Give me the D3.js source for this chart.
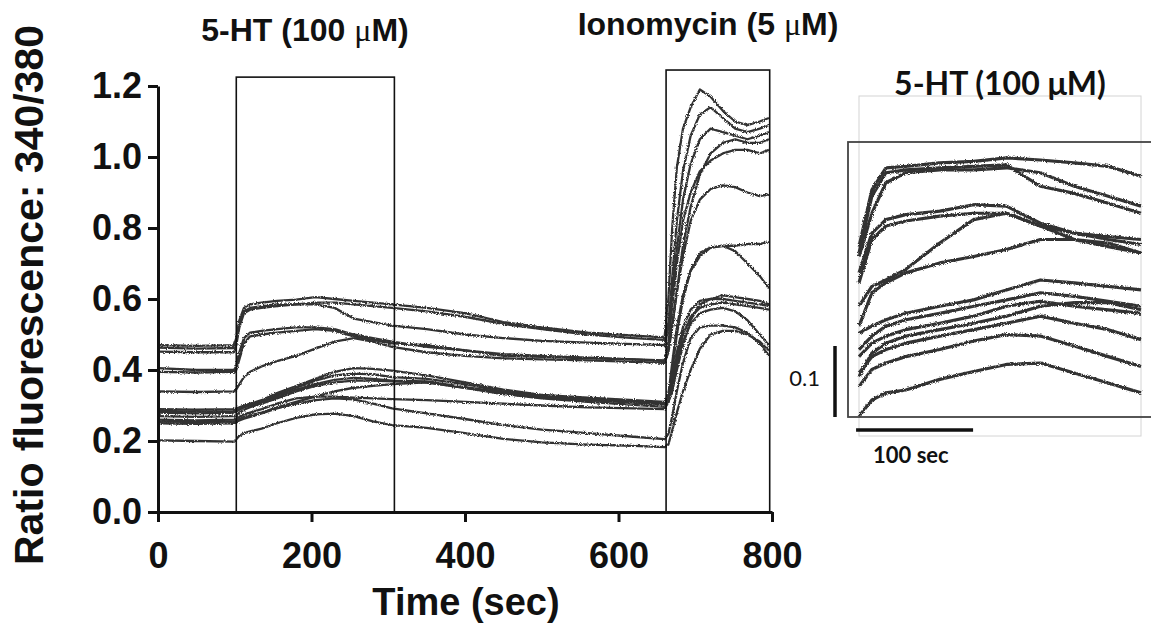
<!DOCTYPE html>
<html><head><meta charset="utf-8">
<script src="https://cdn.jsdelivr.net/npm/d3@7"></script>
<style>body{margin:0;background:#fff}svg{display:block}</style>
</head><body>
<svg id="c" width="1151" height="633"></svg>
<script>
// ---------- data ----------
const mainTimes = [0,50,99, 102,106,112,120,135,155,180,205,230,255,280,305, 350,400,450,500,560,620,660, 665,670,676,684,694,706,720,736,752,768,784,796];
const trace1  = [0.470,0.468,0.470, 0.490,0.540,0.575,0.585,0.590,0.595,0.598,0.605,0.600,0.595,0.590,0.585,0.575, 0.560,0.535,0.520,0.505,0.497,0.492, 0.600,0.800,0.970,1.080,1.140,1.190,1.170,1.130,1.100,1.090,1.100,1.110];
const trace2  = [0.463,0.460,0.462, 0.480,0.530,0.565,0.575,0.580,0.585,0.585,0.585,0.575,0.545,0.535,0.525,0.515, 0.500,0.490,0.482,0.477,0.473,0.470, 0.520,0.660,0.820,0.960,1.060,1.120,1.140,1.110,1.080,1.070,1.080,1.090];
const trace3  = [0.452,0.450,0.450, 0.470,0.520,0.560,0.570,0.575,0.580,0.585,0.590,0.590,0.585,0.580,0.575,0.565, 0.550,0.530,0.515,0.500,0.490,0.485, 0.530,0.620,0.740,0.880,0.980,1.050,1.080,1.070,1.060,1.050,1.060,1.070];
const trace4  = [0.405,0.400,0.400, 0.410,0.450,0.490,0.505,0.510,0.515,0.520,0.520,0.515,0.500,0.490,0.480,0.465, 0.455,0.440,0.437,0.433,0.430,0.425, 0.480,0.580,0.700,0.820,0.900,0.960,0.990,1.010,1.020,1.020,1.010,1.020];
const trace5  = [0.395,0.393,0.395, 0.400,0.430,0.475,0.495,0.500,0.505,0.510,0.515,0.510,0.495,0.485,0.475,0.470, 0.455,0.445,0.440,0.435,0.430,0.427, 0.460,0.530,0.620,0.720,0.820,0.880,0.910,0.920,0.915,0.900,0.890,0.895];
const trace6  = [0.340,0.338,0.340, 0.345,0.360,0.380,0.395,0.410,0.425,0.440,0.460,0.480,0.490,0.480,0.465,0.450, 0.440,0.433,0.430,0.427,0.423,0.420, 0.450,0.520,0.620,0.750,0.860,0.950,1.010,1.040,1.050,1.040,1.040,1.050];
const trace7  = [0.290,0.288,0.290, 0.292,0.295,0.300,0.305,0.315,0.335,0.355,0.375,0.395,0.405,0.403,0.398,0.385, 0.365,0.345,0.330,0.322,0.315,0.310, 0.330,0.400,0.500,0.600,0.680,0.730,0.745,0.750,0.750,0.755,0.755,0.760];
const trace8  = [0.280,0.278,0.280, 0.283,0.288,0.295,0.300,0.310,0.330,0.350,0.370,0.385,0.390,0.388,0.380,0.375, 0.360,0.340,0.328,0.318,0.310,0.305, 0.330,0.420,0.520,0.610,0.680,0.720,0.745,0.750,0.735,0.700,0.665,0.630];
const trace9  = [0.270,0.268,0.270, 0.273,0.280,0.288,0.295,0.305,0.320,0.340,0.355,0.365,0.370,0.370,0.368,0.365, 0.350,0.335,0.322,0.315,0.308,0.303, 0.320,0.380,0.450,0.520,0.570,0.595,0.600,0.600,0.595,0.590,0.585,0.580];
const trace10 = [0.260,0.258,0.260, 0.262,0.268,0.275,0.280,0.290,0.305,0.320,0.325,0.325,0.322,0.320,0.318,0.315, 0.310,0.305,0.300,0.295,0.292,0.290, 0.310,0.360,0.430,0.500,0.550,0.575,0.585,0.590,0.585,0.580,0.575,0.570];
const trace11 = [0.255,0.253,0.255, 0.257,0.262,0.268,0.272,0.280,0.295,0.310,0.325,0.340,0.350,0.355,0.360,0.365, 0.350,0.332,0.320,0.310,0.302,0.296, 0.310,0.360,0.420,0.480,0.530,0.560,0.570,0.575,0.565,0.540,0.500,0.470];
const trace12 = [0.250,0.248,0.250, 0.252,0.258,0.263,0.268,0.278,0.292,0.305,0.315,0.320,0.317,0.305,0.292,0.278, 0.262,0.245,0.232,0.222,0.212,0.205, 0.220,0.270,0.340,0.420,0.490,0.520,0.525,0.525,0.520,0.505,0.475,0.440];
const trace13 = [0.285,0.283,0.284, 0.286,0.290,0.296,0.300,0.310,0.325,0.345,0.360,0.372,0.378,0.375,0.370,0.368, 0.352,0.337,0.325,0.316,0.310,0.305, 0.310,0.340,0.400,0.470,0.540,0.585,0.600,0.610,0.605,0.600,0.595,0.585];
const trace14 = [0.202,0.200,0.198, 0.205,0.215,0.222,0.227,0.235,0.250,0.265,0.275,0.277,0.270,0.255,0.245,0.237, 0.222,0.206,0.196,0.190,0.186,0.183, 0.190,0.230,0.280,0.340,0.400,0.460,0.500,0.510,0.510,0.500,0.480,0.455];
const mainTraces = [trace1,trace2,trace3,trace4,trace5,trace6,trace7,trace8,trace9,trace10,trace11,trace12,trace13,trace14];

const xTicks = [0,200,400,600,800];
const yTicks = [0,0.2,0.4,0.6,0.8,1.0,1.2];
const fiveHTWindow = [102, 308, 1.225];
const ionoWindow = [662, 797, 1.245];

const insetTimes = [0,11,23,40,69,98,126,155,184,213,241];
const insetA = [0.240,0.320,0.351,0.353,0.358,0.360,0.365,0.362,0.358,0.353,0.339];
const insetB = [0.231,0.311,0.344,0.348,0.351,0.353,0.355,0.325,0.315,0.301,0.287];
const insetC = [0.226,0.287,0.330,0.344,0.348,0.348,0.351,0.344,0.325,0.311,0.297];
const insetD = [0.203,0.259,0.278,0.285,0.290,0.299,0.297,0.273,0.259,0.254,0.250];
const insetE = [0.189,0.250,0.269,0.276,0.283,0.287,0.287,0.269,0.250,0.240,0.231];
const insetF = [0.156,0.184,0.193,0.208,0.245,0.278,0.287,0.269,0.259,0.250,0.243];
const insetG = [0.128,0.175,0.189,0.203,0.217,0.226,0.236,0.250,0.250,0.245,0.231];
const insetH = [0.118,0.128,0.137,0.146,0.156,0.165,0.179,0.193,0.189,0.184,0.179];
const insetI = [0.095,0.114,0.128,0.137,0.146,0.156,0.165,0.175,0.170,0.163,0.156];
const insetJ = [0.085,0.104,0.114,0.123,0.132,0.142,0.156,0.163,0.156,0.151,0.146];
const insetK = [0.057,0.090,0.104,0.114,0.123,0.132,0.142,0.156,0.161,0.161,0.151];
const insetL = [0.062,0.085,0.095,0.104,0.114,0.123,0.132,0.142,0.132,0.123,0.109];
const insetM = [0.043,0.067,0.076,0.085,0.095,0.107,0.116,0.114,0.100,0.085,0.071];
const insetN = [0.001,0.024,0.034,0.038,0.053,0.064,0.074,0.076,0.062,0.048,0.034];
const insetTraces = [insetA,insetB,insetC,insetD,insetE,insetF,insetG,insetH,insetI,insetJ,insetK,insetL,insetM,insetN];
const scaleBarV = 0.1, scaleBarT = 100;

// ---------- drawing ----------
const svg = d3.select("#c");
const FONT = "'Liberation Sans', Arial, sans-serif";
const TRACE = "#333";

const defs = svg.append("defs");
const f = defs.append("filter").attr("id","noise").attr("filterUnits","userSpaceOnUse")
  .attr("x",0).attr("y",0).attr("width",1151).attr("height",633);
f.append("feTurbulence").attr("type","fractalNoise").attr("baseFrequency","1.1").attr("numOctaves",1).attr("seed",3).attr("result","t");
f.append("feDisplacementMap").attr("in","SourceGraphic").attr("in2","t").attr("scale",3.5).attr("xChannelSelector","R").attr("yChannelSelector","G");

const x = d3.scaleLinear().domain([0,800]).range([158,772]);
const y = d3.scaleLinear().domain([0,1.2]).range([512,86]);

const line = d3.line().x((d,i)=>x(mainTimes[i])).y(d=>y(d));
svg.append("g").attr("filter","url(#noise)")
  .selectAll("path").data(mainTraces).join("path")
  .attr("d",line).attr("fill","none").attr("stroke",TRACE).attr("stroke-width",2.3).attr("stroke-linejoin","round");

// treatment boxes
[fiveHTWindow, ionoWindow].forEach(w=>{
  svg.append("rect").attr("x",x(w[0])).attr("y",y(w[2])).attr("width",x(w[1])-x(w[0])).attr("height",y(0)-y(w[2]))
    .attr("fill","none").attr("stroke","#111").attr("stroke-width",1.6);
});

// axes
const yAxis = svg.append("g").attr("transform",`translate(${x(0)},0)`)
  .call(d3.axisLeft(y).tickValues(yTicks).tickFormat(d3.format(".1f")).tickSize(10).tickSizeOuter(0).tickPadding(6));
const xAxis = svg.append("g").attr("transform",`translate(0,${y(0)})`)
  .call(d3.axisBottom(x).tickValues(xTicks).tickFormat(d3.format("d")).tickSize(10).tickSizeOuter(0).tickPadding(20));
[yAxis,xAxis].forEach(g=>{
  g.select(".domain").attr("stroke","#111").attr("stroke-width",3);
  g.selectAll(".tick line").attr("stroke","#111").attr("stroke-width",3);
  g.selectAll(".tick text").attr("fill","#111").style("font-family",FONT).style("font-size","36px").style("font-weight","bold");
});

svg.append("text").attr("transform","translate(43,295) rotate(-90)").attr("text-anchor","middle")
  .style("font-family",FONT).style("font-size","41px").style("font-weight","bold").attr("fill","#111")
  .text("Ratio fluorescence: 340/380");
svg.append("text").attr("x",466).attr("y",615).attr("text-anchor","middle")
  .style("font-family",FONT).style("font-size","38px").style("font-weight","bold").attr("fill","#111")
  .text("Time (sec)");

function title(tx, ty, pre, post){
  const t = svg.append("text").attr("x",tx).attr("y",ty).attr("text-anchor","middle")
    .style("font-family",FONT).style("font-size","32px").style("font-weight","bold").attr("fill","#111");
  t.append("tspan").text(pre);
  t.append("tspan").style("font-family","'Liberation Serif', serif").style("font-weight","normal").text("\u03bc");
  t.append("tspan").text(post);
}
title(305, 41, "5-HT (100 ", "M)");
title(708, 35, "Ionomycin (5 ", "M)");

// ---------- inset ----------
const xi = d3.scaleLinear().domain([0,241]).range([859,1141]);
const yi = d3.scaleLinear().domain([0,0.1]).range([417,346]);
svg.append("rect").attr("x",859).attr("y",96).attr("width",282).attr("height",340)
  .attr("fill","none").attr("stroke","#d4d4d4").attr("stroke-width",1);
const iline = d3.line().x((d,i)=>xi(insetTimes[i])).y(d=>yi(d));
svg.append("g").attr("filter","url(#noise)")
  .selectAll("path").data(insetTraces).join("path")
  .attr("d",iline).attr("fill","none").attr("stroke",TRACE).attr("stroke-width",3.2).attr("stroke-linejoin","round");
svg.append("rect").attr("x",848).attr("y",142).attr("width",320).attr("height",275)
  .attr("fill","none").attr("stroke","#444").attr("stroke-width",1.8);
// scale bars
svg.append("line").attr("x1",835).attr("x2",835).attr("y1",yi(0)).attr("y2",yi(scaleBarV))
  .attr("stroke","#111").attr("stroke-width",3.5);
svg.append("line").attr("x1",xi(-2.5)).attr("x2",xi(-2.5+scaleBarT)).attr("y1",430).attr("y2",430)
  .attr("stroke","#111").attr("stroke-width",3.5);
const IFONT = "Lato, 'Open Sans', sans-serif";
svg.append("text").attr("x",1000).attr("y",95).attr("text-anchor","middle")
  .style("font-family",IFONT).style("font-size","32px").style("font-weight","bold").attr("fill","#111")
  .text("5-HT (100 \u03bcM)");
svg.append("text").attr("x",820).attr("y",386).attr("text-anchor","end")
  .style("font-family",IFONT).style("font-size","22px").attr("fill","#111").text("0.1");
svg.append("text").attr("x",873).attr("y",463)
  .style("font-family",IFONT).style("font-size","22px").style("font-weight","bold").attr("fill","#111").text("100 sec");
</script>
</body></html>
